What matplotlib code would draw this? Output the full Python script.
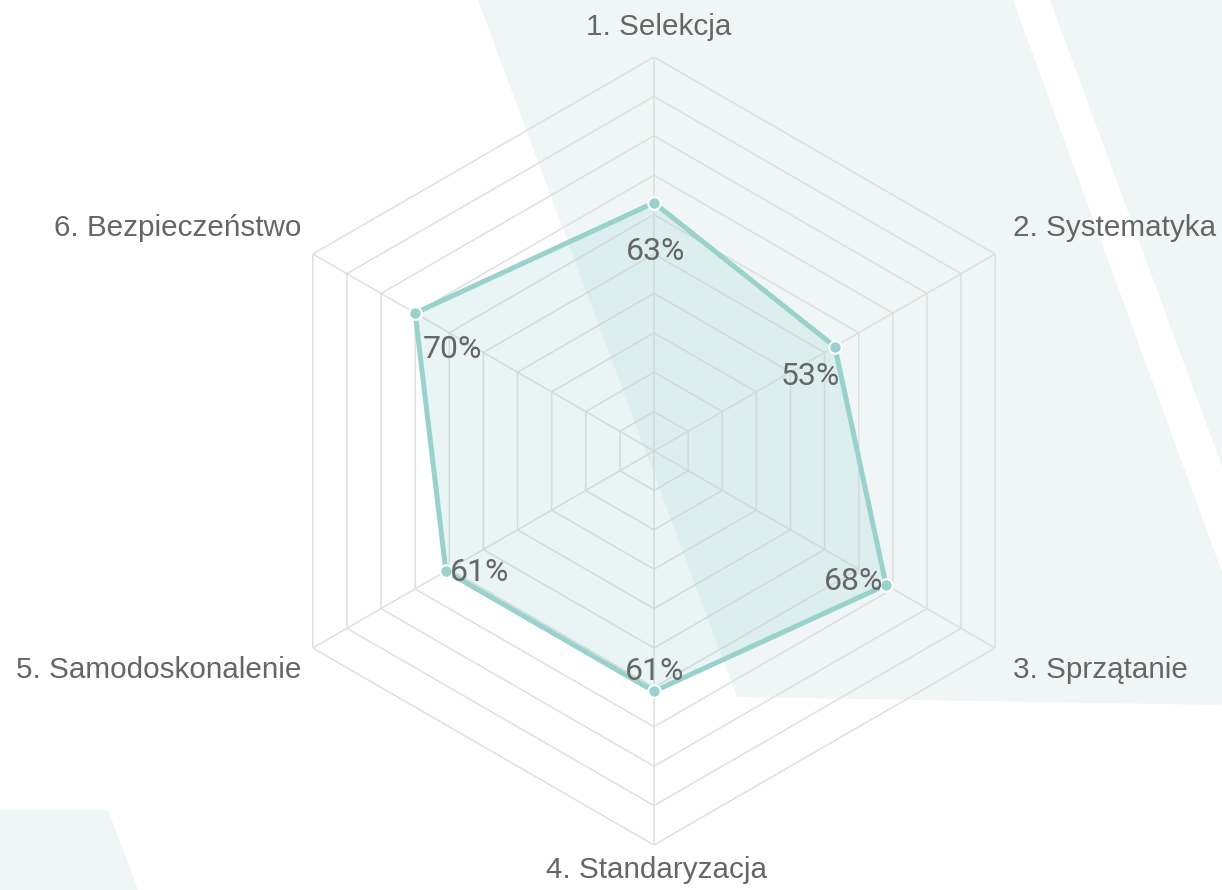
import numpy as np
import matplotlib
matplotlib.use("Agg")
import matplotlib.pyplot as plt
from matplotlib.patches import Polygon

# data
categories = ["1. Selekcja", "2. Systematyka", "3. Sprzątanie",
              "4. Standaryzacja", "5. Samodoskonalenie", "6. Bezpieczeństwo"]
values = [63, 53, 68, 61, 61, 70]
value_labels = ["63%", "53%", "68%", "61%", "61%", "70%"]
ring_levels = [10, 20, 30, 40, 50, 60, 70, 80, 90, 100]

# label offsets in pixels (dx, dy) - layout only
value_offsets = [(2, -49), (-25, -30), (-32, 3), (1, 20), (34, -1), (37, -36)]
cat_offsets = [(5, 30), (18, 26), (18, -22), (3, -25), (-11, -22), (-11, 26)]
cat_ha = ["center", "left", "left", "center", "right", "right"]

W, H = 1222, 890
fig = plt.figure(figsize=(W / 100, H / 100), dpi=100)
fig.patch.set_facecolor("white")

# decorative background shapes (pixel coords, y from top)
bg = fig.add_axes([0, 0, 1, 1])
bg.set_xlim(0, W)
bg.set_ylim(H, 0)
bg.axis("off")
bgcol = "#f0f6f6"
shapes = [
    [(478, 0), (1013, 0), (1222, 572), (1222, 705), (737, 697)],
    [(1050, 0), (1222, 0), (1222, 466)],
    [(0, 810), (108, 810), (138, 890), (0, 890)],
]
for s in shapes:
    bg.add_patch(Polygon(s, closed=True, facecolor=bgcol, edgecolor="none"))

# radar
cx, cy, R = 654, 451, 394
ax = fig.add_axes([(cx - R) / W, (H - cy - R) / H, 2 * R / W, 2 * R / H],
                  projection="polar")
ax.set_facecolor("none")
ax.set_theta_offset(np.pi / 2)
ax.set_theta_direction(-1)
ax.set_ylim(0, 100)
ax.grid(False)
ax.spines["polar"].set_visible(False)
ax.set_xticks([])
ax.set_yticks([])

n = len(categories)
angles = np.linspace(0, 2 * np.pi, n, endpoint=False)
closed = np.append(angles, angles[0])

gridcol = "#dfdfdf"
for lvl in ring_levels:
    ax.plot(closed, [lvl] * (n + 1), color=gridcol, lw=1.1, zorder=1)
for a in angles:
    ax.plot([a, a], [0, ring_levels[-1]], color=gridcol, lw=1.1, zorder=1)

vals = np.append(values, values[0])
teal = "#99d2cd"
ax.fill(closed, vals, color=teal, alpha=0.22, zorder=2, lw=0)
ax.plot(closed, vals, color=teal, lw=3.6, zorder=3)
ax.plot(angles, values, "o", color=teal, ms=9, mec="white", mew=1.5, zorder=4)

for a, v, lab, off in zip(angles, values, value_labels, value_offsets):
    ax.annotate(lab, (a, v), xytext=off, textcoords="offset pixels",
                ha="center", va="center", fontsize=23, color="#666666",
                family="Roboto", zorder=5)

for a, lab, off, ha in zip(angles, categories, cat_offsets, cat_ha):
    ax.annotate(lab, (a, ring_levels[-1]), xytext=off, textcoords="offset pixels",
                ha=ha, va="center", fontsize=21.3, color="#666666",
                family="Liberation Sans", annotation_clip=False)

fig.savefig("out.png", dpi=100)
